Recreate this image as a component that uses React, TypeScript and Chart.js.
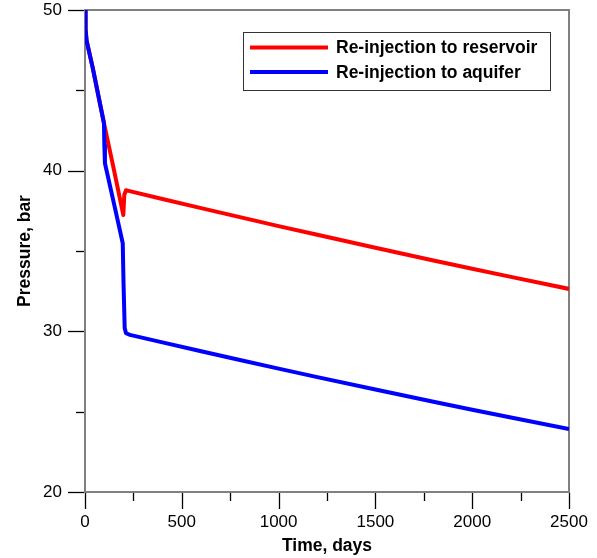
import React, { useEffect, useRef } from "react";
import { Chart, registerables } from "chart.js";

Chart.register(...registerables);

// ---- Data (time in days, pressure in bar) ----
const reservoirDays = [0, 3, 8, 40, 98, 146, 198, 203, 212, 225, 400, 600, 800, 1000, 1200, 1500, 1800, 2000, 2200, 2500];
const reservoirPressure = [50, 48.8, 48.1, 46.4, 42.95, 40.25, 37.24, 38.5, 38.78, 38.74, 38.24, 37.67, 37.11, 36.55, 36.01, 35.2, 34.41, 33.9, 33.39, 32.64];

const aquiferDays = [0, 3, 8, 40, 98, 100, 103, 150, 195, 199, 205, 212, 232, 400, 600, 800, 1000, 1200, 1500, 1800, 2000, 2200, 2500];
const aquiferPressure = [50, 48.8, 48.1, 46.4, 42.95, 41.6, 40.46, 37.93, 35.48, 33, 30.2, 29.88, 29.78, 29.31, 28.76, 28.22, 27.68, 27.15, 26.38, 25.62, 25.12, 24.64, 23.92];

const seriesLabels = ["Re-injection to reservoir", "Re-injection to aquifer"];
const seriesColors = ["#ff0000", "#0000ff"];

const xMajorTicks = [0, 500, 1000, 1500, 2000, 2500];
const xMinorTicks = [250, 750, 1250, 1750, 2250];
const yMajorTicks = [20, 30, 40, 50];
const yMinorTicks = [25, 35, 45];

const xTitle = "Time, days";
const yTitle = "Pressure, bar";

const FONT = "'Liberation Sans', Arial, Helvetica, sans-serif";

const toPoints = (xs: number[], ys: number[]) => xs.map((x, i) => ({ x, y: ys[i] }));

const framePlugin = {
  id: "frameAndTicks",
  beforeDatasetsDraw(chart: any) {
    const { ctx, chartArea: a } = chart;
    ctx.save();
    ctx.strokeStyle = "#808080";
    ctx.lineWidth = 2;
    ctx.strokeRect(a.left, a.top, a.right - a.left, a.bottom - a.top);
    ctx.restore();
  },
  afterDraw(chart: any) {
    const { ctx, chartArea: a, scales } = chart;
    const x = scales.x;
    const y = scales.y;
    ctx.save();
    ctx.strokeStyle = "#000000";
    ctx.lineWidth = 1.3;
    const tickX = (v: number, len: number) => {
      const px = Math.round(x.getPixelForValue(v)) + 0.5;
      ctx.beginPath();
      ctx.moveTo(px, a.bottom + 1);
      ctx.lineTo(px, a.bottom + len);
      ctx.stroke();
    };
    const tickY = (v: number, len: number) => {
      const py = Math.round(y.getPixelForValue(v)) + 0.5;
      ctx.beginPath();
      ctx.moveTo(a.left - 1, py);
      ctx.lineTo(a.left - len, py);
      ctx.stroke();
    };
    for (const v of xMajorTicks) tickX(v, 17);
    for (const v of xMinorTicks) tickX(v, 9);
    for (const v of yMajorTicks) tickY(v, 17);
    for (const v of yMinorTicks) tickY(v, 9);

    // legend
    const lx = a.left + 158;
    const ly = a.top + 22;
    const lw = 307;
    const lh = 58;
    ctx.fillStyle = "#ffffff";
    ctx.fillRect(lx, ly, lw, lh);
    ctx.strokeStyle = "#333333";
    ctx.lineWidth = 1;
    ctx.strokeRect(lx + 0.5, ly + 0.5, lw, lh);
    ctx.font = `bold 17.5px ${FONT}`;
    ctx.textBaseline = "middle";
    ctx.textAlign = "left";
    chart.data.datasets.forEach((ds: any, i: number) => {
      const rowY = ly + 15.5 + i * 24.5;
      ctx.strokeStyle = ds.borderColor;
      ctx.lineWidth = 4;
      ctx.beginPath();
      ctx.moveTo(lx + 7, rowY);
      ctx.lineTo(lx + 85, rowY);
      ctx.stroke();
      ctx.fillStyle = "#000000";
      ctx.fillText(ds.label, lx + 93, rowY + 1);
    });
    ctx.restore();
  },
};

export default function App() {
  const ref = useRef<HTMLCanvasElement | null>(null);
  useEffect(() => {
    if (!ref.current) return;
    const chart = new Chart(ref.current, {
      type: "line",
      data: {
        datasets: [
          {
            label: seriesLabels[0],
            data: toPoints(reservoirDays, reservoirPressure),
            borderColor: seriesColors[0],
            backgroundColor: seriesColors[0],
            borderWidth: 4,
            borderJoinStyle: "round",
            pointRadius: 0,
            tension: 0,
            fill: false,
            order: 2,
          },
          {
            label: seriesLabels[1],
            data: toPoints(aquiferDays, aquiferPressure),
            borderColor: seriesColors[1],
            backgroundColor: seriesColors[1],
            borderWidth: 4,
            borderJoinStyle: "round",
            pointRadius: 0,
            tension: 0,
            fill: false,
            order: 1,
          },
        ],
      },
      options: {
        responsive: false,
        animation: false,
        layout: { padding: { top: 10, right: 28, left: 0, bottom: 0 } },
        plugins: {
          legend: { display: false },
          tooltip: { enabled: false },
        },
        scales: {
          x: {
            type: "linear",
            min: 0,
            max: 2500,
            afterBuildTicks: (s: any) => {
              s.ticks = xMajorTicks.map((v) => ({ value: v }));
            },
            afterFit: (s: any) => {
              s.height = 66;
              s.paddingLeft = 0;
              s.paddingRight = 0;
            },
            grid: { display: false, drawTicks: false, tickLength: 0 },
            border: { display: false },
            ticks: {
              color: "#000000",
              padding: 21,
              maxRotation: 0,
              autoSkip: false,
              callback: (v: any) => String(v),
              font: { family: FONT, size: 17, lineHeight: 1.1 },
            },
            title: {
              display: true,
              text: xTitle,
              color: "#000000",
              padding: { top: 0, bottom: 1 },
              font: { family: FONT, size: 17.5, weight: "bold", lineHeight: 1.2 },
            },
          },
          y: {
            type: "linear",
            min: 20,
            max: 50,
            afterBuildTicks: (s: any) => {
              s.ticks = yMajorTicks.map((v) => ({ value: v }));
            },
            afterFit: (s: any) => {
              s.width = 85;
              s.paddingTop = 0;
              s.paddingBottom = 0;
            },
            grid: { display: false, drawTicks: false, tickLength: 0 },
            border: { display: false },
            ticks: {
              color: "#000000",
              padding: 23,
              autoSkip: false,
              callback: (v: any) => String(v),
              font: { family: FONT, size: 17, lineHeight: 1.1 },
            },
            title: {
              display: true,
              text: yTitle,
              color: "#000000",
              padding: { top: 14.5, bottom: 0 },
              font: { family: FONT, size: 17.5, weight: "bold", lineHeight: 1.2 },
            },
          },
        },
      },
      plugins: [framePlugin],
    });
    return () => chart.destroy();
  }, []);

  return (
    <div style={{ position: "fixed", left: 0, top: 0, width: 597, height: 558, background: "#ffffff" }}>
      <canvas ref={ref} width={597} height={558} style={{ display: "block" }} />
    </div>
  );
}
